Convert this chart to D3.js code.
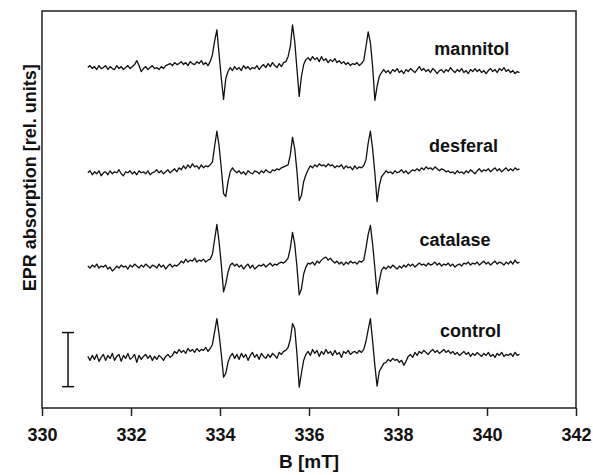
<!DOCTYPE html>
<html>
<head>
<meta charset="utf-8">
<script src="https://cdn.jsdelivr.net/npm/d3@7"></script>
<style>
  body { margin: 0; background: #fff; }
  text { font-family: "Liberation Sans", Arial, Helvetica, sans-serif; font-weight: bold; fill: #111; }
</style>
</head>
<body>
<div id="chart"></div>
<script>
// field sweep of the spectra (mT), one reading every 0.05 mT
const fieldStart = 331.03
const fieldStep = 0.05

// signal of each spectrum, rel. units
const mannitol = [
  -0.1, 0.1, -0.2, 0.0, -0.3, 0.1, -0.2, -0.1, 0.1, -0.3,
  0.0, -0.2, -0.3, 0.1, -0.2, 0.0, -0.3, -0.1, 0.1, -0.2,
  0.0, 0.2, 0.6, 0.1, -0.5, -0.2, 0.0, -0.3, -0.1, 0.1,
  -0.2, -0.1, -0.3, 0.0, -0.2, 0.1, 0.2, 0.3, 0.1, 0.4,
  0.2, 0.3, 0.5, 0.2, 0.4, 0.1, 0.5, 0.3, 0.2, 0.5,
  0.3, 0.6, 0.2, 0.4, 0.1, 0.5, 1.2, 2.6, 3.7, 1.2,
  -1.2, -3.3, -1.2, -0.5, -0.1, -0.4, 0.0, -0.3, -0.1, -0.4,
  0.1, -0.2, 0.0, -0.3, -0.1, -0.2, 0.1, -0.3, 0.0, 0.2,
  -0.1, 0.3, 0.0, 0.4, 0.1, -0.1, 0.3, 0.0, 0.4, 0.5,
  1.0, 2.0, 4.2, 2.5, -0.3, -3.0, -1.0, 0.2, 0.7, 0.9,
  0.6, 1.0, 0.7, 0.9, 0.5, 1.0, 0.6, 0.8, 0.4, 0.7,
  0.5, 0.8, 0.4, 0.6, 0.3, 0.5, 0.2, 0.4, 0.1, 0.3,
  0.2, 0.4, 0.1, 0.3, 0.6, 2.0, 3.5, 2.4, 0.0, -3.4,
  -2.0, -1.0, -0.6, -0.3, -0.6, -0.4, -0.7, -0.3, -0.5, -0.2,
  -0.6, -0.4, -0.7, -0.3, -0.5, -0.2, -0.4, -0.6, -0.3, 0.0,
  -0.4, -0.2, -0.5, -0.3, -0.6, -0.2, -0.4, -0.7, -0.4, -0.3,
  -0.6, -0.3, -0.5, -0.1, -0.4, -0.6, -0.3, -0.5, -0.2, -0.6,
  -0.4, -0.7, -0.3, -0.5, -0.2, -0.5, -0.3, -0.6, -0.4, -0.7,
  -0.4, -0.2, -0.5, -0.3, -0.6, -0.2, -0.4, -0.1, -0.5, -0.3,
  -0.6, -0.4, -0.7, -0.5, -0.6
]

const desferal = [
  -0.1, 0.1, -0.3, 0.0, -0.2, 0.1, -0.4, -0.1, 0.0, -0.3,
  0.1, -0.2, 0.0, -0.1, 0.2, -0.2, -0.4, 0.0, -0.1, 0.1,
  -0.2, 0.0, -0.3, 0.1, -0.1, 0.0, -0.2, 0.1, -0.3, -0.1,
  0.0, 0.2, -0.1, 0.1, -0.2, 0.0, 0.2, -0.1, 0.1, 0.3,
  0.0, 0.4, 0.2, 0.6, 0.3, 0.7, 0.4, 0.8, 0.5, 0.6,
  0.3, 0.7, 0.4, 0.6, 0.5, 0.7, 1.0, 2.6, 4.1, 2.6,
  0.3, -2.2, -2.5, -1.0, 0.0, 0.4, 0.1, -0.1, 0.1, -0.2,
  0.0, -0.3, 0.1, -0.1, -0.2, 0.1, 0.0, -0.2, 0.1, -0.1,
  0.2, 0.0, -0.1, 0.2, 0.1, 0.3, 0.2, 0.4, 0.5, 0.6,
  0.7, 1.7, 3.5, 2.3, 0.0, -2.9, -2.4, -1.0, -0.3, 0.2,
  0.6, 0.4, 0.7, 0.5, 0.8, 0.6, 0.7, 0.5, 0.8, 0.6,
  0.7, 0.4, 0.6, 0.5, 0.7, 0.3, 0.6, 0.4, 0.5, 0.2,
  0.6, 0.3, 0.5, 0.4, 0.6, 1.2, 2.9, 4.1, 2.3, -0.1,
  -3.0, -1.4, -0.5, -0.2, 0.1, -0.1, 0.0, -0.2, 0.1, -0.1,
  0.0, 0.2, -0.1, 0.1, -0.2, 0.0, 0.2, 0.1, 0.3, 0.1,
  0.4, 0.2, 0.5, 0.3, 0.4, 0.2, 0.5, 0.3, 0.1, 0.3,
  0.2, 0.0, 0.1, -0.1, 0.0, -0.2, 0.1, -0.1, 0.0, -0.2,
  0.1, -0.1, 0.2, 0.0, -0.2, 0.1, 0.3, 0.0, 0.2, 0.1,
  0.3, 0.0, 0.2, 0.4, 0.1, 0.3, 0.0, 0.2, 0.4, 0.1,
  0.3, 0.1, 0.4, 0.2, 0.3
]

const catalase = [
  0.0, -0.2, 0.1, -0.1, 0.2, -0.2, 0.0, -0.1, 0.1, -0.3,
  -0.1, -0.5, -0.3, 0.0, -0.2, 0.1, -0.1, 0.0, -0.3, 0.1,
  -0.1, 0.2, 0.0, -0.2, 0.1, -0.1, 0.2, 0.0, -0.2, 0.1,
  0.0, -0.2, 0.2, -0.1, 0.1, -0.3, 0.0, 0.2, -0.1, 0.1,
  0.0, 0.2, 0.5, 0.3, 0.7, 0.4, 0.6, 0.5, 0.8, 0.4,
  0.6, 0.5, 0.7, 0.4, 0.6, 0.7, 1.2, 2.7, 4.2, 2.4,
  0.1, -2.6, -1.8, -0.6, 0.1, 0.3, 0.0, 0.2, -0.1, 0.1,
  -0.3, 0.0, 0.2, -0.2, 0.1, -0.3, -0.1, 0.1, 0.0, 0.2,
  -0.1, 0.1, 0.3, 0.0, 0.2, 0.1, 0.3, 0.4, 0.3, 0.5,
  0.8, 1.8, 3.4, 2.2, -0.1, -2.9, -2.3, -0.8, -0.1, 0.3,
  0.2, 0.4, 0.1, 0.5, 0.3, 0.6, 0.8, 0.9, 0.6, 0.8,
  0.5, 0.3, 0.5, 0.2, 0.4, 0.1, 0.4, 0.2, 0.5, 0.3,
  0.4, 0.2, 0.5, 0.4, 0.6, 1.8, 3.2, 4.1, 2.2, -0.2,
  -2.8, -1.5, -0.4, -0.1, -0.3, 0.0, -0.2, 0.1, -0.1, -0.3,
  0.0, -0.2, 0.1, -0.1, 0.2, 0.0, 0.2, -0.1, 0.1, 0.3,
  0.1, 0.2, 0.0, 0.3, 0.1, 0.2, 0.4, 0.1, 0.3, 0.0,
  0.2, 0.1, 0.3, 0.0, 0.2, -0.1, 0.1, 0.2, 0.0, 0.3,
  0.2, 0.4, 0.1, 0.3, 0.2, 0.4, 0.1, 0.3, 0.5, 0.2,
  0.4, 0.1, 0.3, 0.5, 0.2, 0.4, 0.3, 0.1, 0.4, 0.2,
  0.5, 0.2, 0.6, 0.3, 0.4
]

const control = [
  0.1, -0.3, 0.2, -0.2, 0.3, -0.4, 0.0, 0.3, -0.3, 0.2,
  -0.1, 0.4, -0.3, 0.1, 0.3, -0.4, 0.2, -0.1, 0.4, -0.2,
  0.0, 0.3, -0.5, 0.2, -0.2, 0.1, 0.3, -0.1, 0.2, -0.3,
  0.1, -0.2, 0.2, 0.0, -0.3, 0.1, 0.3, 0.0, 0.2, 0.6,
  0.4, 0.8, 0.5, 0.7, 0.4, 0.9, 0.6, 0.8, 0.5, 0.9,
  0.6, 0.8, 0.7, 1.0, 0.6, 0.9, 1.3, 2.6, 3.9, 2.3,
  0.3, -2.0, -1.6, -0.5, 0.1, 0.4, -0.1, 0.3, -0.2, 0.4,
  0.0, 0.3, -0.3, 0.2, 0.5, 0.0, 0.3, -0.2, 0.4, 0.1,
  -0.1, 0.3, 0.0, 0.4, 0.2, -0.1, 0.5, 0.3, 0.6, 0.7,
  1.0, 1.8, 3.4, 2.9, 0.3, -3.0, -1.6, -0.3, 0.3, 0.6,
  0.2, 0.8, 0.4, 0.7, 0.1, 0.6, 0.3, 0.8, 0.4, 0.6,
  0.2, 0.7, 0.3, 0.5, 0.0, 0.6, 0.4, 0.7, 0.3, 0.5,
  0.6, 0.4, 0.7, 0.5, 0.8, 1.6, 2.8, 3.9, 1.6, -0.8,
  -2.9, -1.4, -1.0, -0.6, -0.5, -0.2, -0.4, -0.1, -0.3, -0.2,
  -0.5, -0.3, -0.8, -0.4, 0.1, 0.3, 0.0, 0.5, 0.2, 0.6,
  0.4, 0.7, 0.5, 0.3, 0.6, 0.8, 0.5, 0.7, 0.4, 0.6,
  0.8, 0.5, 0.7, 0.4, 0.6, 0.3, 0.5, 0.2, 0.4, 0.6,
  0.3, 0.5, 0.1, 0.4, 0.2, 0.5, 0.3, 0.1, 0.4, 0.2,
  0.5, 0.1, 0.3, 0.0, 0.4, 0.2, 0.5, 0.1, 0.3, 0.2,
  0.4, 0.1, 0.5, 0.2, 0.3
]

const traceNames = ["mannitol", "desferal", "catalase", "control"]
const traceValues = [mannitol, desferal, catalase, control]
// vertical stacking of the spectra (rel. units)
const traceOffsets = [34.4, 23.8, 14.3, 5.1]
const xTicks = [330, 332, 334, 336, 338, 340, 342]

// scale bar (rel. units)
const scaleBarField = 330.585
const scaleBarRange = [2.15, 7.6]

// label anchors: field (mT) and level (rel. units)
const labelField = [339.66, 339.47, 339.28, 339.63]
const labelLevel = [35.55, 25.8, 16.3, 7.2]

const width = 593, height = 475
const margin = {top: 11, right: 17, bottom: 67, left: 42}

const svg = d3.select("#chart").append("svg")
  .attr("width", width)
  .attr("height", height)

const x = d3.scaleLinear()
  .domain([330, 342])
  .range([margin.left, width - margin.right])

const y = d3.scaleLinear()
  .domain([0, 40])
  .range([height - margin.bottom, margin.top])

// frame
svg.append("rect")
  .attr("x", x(330))
  .attr("y", y(40))
  .attr("width", x(342) - x(330))
  .attr("height", y(0) - y(40))
  .attr("fill", "none")
  .attr("stroke", "#222")
  .attr("stroke-width", 1.5)

const xAxis = svg.append("g")
  .attr("transform", `translate(0,${y(0)})`)
  .call(d3.axisBottom(x).tickValues(xTicks).tickFormat(d3.format("d")).tickSize(8).tickPadding(12))

xAxis.select(".domain").remove()
xAxis.selectAll("line").attr("stroke", "#222").attr("stroke-width", 1.5)
xAxis.selectAll("text")
  .attr("font-size", 18)
  .attr("font-family", null)
  .attr("fill", "#111")

svg.append("text")
  .attr("x", x(336))
  .attr("y", 468)
  .attr("text-anchor", "middle")
  .attr("font-size", 19)
  .text("B [mT]")

// title sits a bit above the middle of the frame, as in the original
svg.append("text")
  .attr("transform", `translate(36,${y(23.2)}) rotate(-90)`)
  .attr("text-anchor", "middle")
  .attr("font-size", 18)
  .text("EPR absorption [rel. units]")

// spectra
const line = d3.line()
  .x((d, i) => x(fieldStart + i * fieldStep))

const traces = svg.append("g").attr("class", "traces")

traceValues.forEach((vals, k) => {
  traces.append("path")
    .datum(vals)
    .attr("fill", "none")
    .attr("stroke", "#111")
    .attr("stroke-width", 1.3)
    .attr("stroke-linejoin", "round")
    .attr("d", line.y(d => y(traceOffsets[k] + d)))

  svg.append("text")
    .attr("x", x(labelField[k]))
    .attr("y", y(labelLevel[k]))
    .attr("text-anchor", "middle")
    .attr("font-size", 18)
    .text(traceNames[k])
})

// scale bar
const bar = svg.append("g")
  .attr("stroke", "#111")
  .attr("stroke-width", 1.5)
const bx = x(scaleBarField)
bar.append("line")
  .attr("x1", bx).attr("x2", bx)
  .attr("y1", y(scaleBarRange[0])).attr("y2", y(scaleBarRange[1]))
scaleBarRange.forEach(v => {
  bar.append("line")
    .attr("x1", bx - 6).attr("x2", bx + 6)
    .attr("y1", y(v)).attr("y2", y(v))
})
</script>
</body>
</html>
